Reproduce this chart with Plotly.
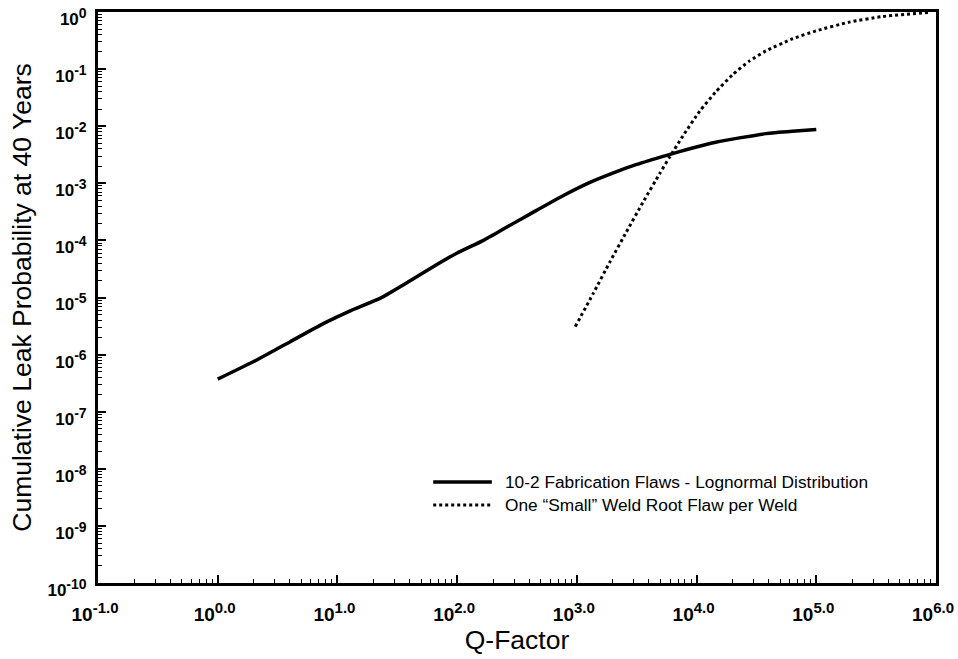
import plotly.graph_objects as go

# Fabrication-flaw curve (10-2 flaws, lognormal distribution)
fab_q = [1.0, 2.14, 4.07, 7.76, 13.2, 22.9, 38.0, 63.1, 100, 166, 269, 437, 794,
         1259, 1995, 3162, 5623, 8913, 14454, 23442, 38019, 63096, 100000]
fab_p = [3.72e-7, 8.13e-7, 1.70e-6, 3.55e-6, 6.03e-6, 9.77e-6, 1.82e-5, 3.47e-5,
         6.03e-5, 1.0e-4, 1.78e-4, 3.16e-4, 6.31e-4, 1.02e-3, 1.51e-3, 2.14e-3,
         3.09e-3, 4.07e-3, 5.25e-3, 6.31e-3, 7.41e-3, 8.13e-3, 8.71e-3]

# Single small weld-root flaw per weld
root_q = [970, 1368, 1884, 2594, 3573, 4920, 5957, 7691, 10593, 14454, 19953,
          27542, 38019, 63096, 100000, 186209, 354813, 870964]
root_p = [3.09e-6, 1.17e-5, 4.17e-5, 1.41e-4, 4.68e-4, 1.48e-3, 2.88e-3, 6.76e-3,
          1.82e-2, 3.98e-2, 7.94e-2, 0.138, 0.209, 0.339, 0.468, 0.661, 0.832, 0.98]

series_names = ["10-2 Fabrication Flaws - Lognormal Distribution",
                "One \u201cSmall\u201d Weld Root Flaw per Weld"]

x_tickvals = [0.1, 1, 10, 100, 1000, 1e4, 1e5, 1e6]
x_exponents = ["-1.0", "0.0", "1.0", "2.0", "3.0", "4.0", "5.0", "6.0"]
y_tickvals = [1e-10, 1e-9, 1e-8, 1e-7, 1e-6, 1e-5, 1e-4, 1e-3, 1e-2, 1e-1, 1]
y_exponents = ["-10", "-9", "-8", "-7", "-6", "-5", "-4", "-3", "-2", "-1", "0"]


def power_label(exp, sup_px):
    return f"10<sup><span style=\"font-size:{sup_px}px\">{exp}</span></sup>"


x_ticktext = [power_label(e, 15) for e in x_exponents]
y_ticktext = [power_label(e, 14) for e in y_exponents]

FONT = "Liberation Sans, Arial, sans-serif"

fig = go.Figure()
fig.add_trace(go.Scatter(x=fab_q, y=fab_p, mode="lines", name=series_names[0],
                         line=dict(color="black", width=3.5, shape="spline", smoothing=0.5)))
fig.add_trace(go.Scatter(x=root_q, y=root_p, mode="lines", name=series_names[1],
                         line=dict(color="black", width=3, dash="dot", shape="spline", smoothing=0.5)))

axis_common = dict(
    type="log", showgrid=False, zeroline=False,
    showline=True, linecolor="black", linewidth=3, mirror=True,
    ticks="inside", ticklen=8, tickwidth=2, tickcolor="black",
    minor=dict(ticks="inside", ticklen=4, tickwidth=1, tickcolor="black", dtick="D1", showgrid=False),
)

fig.update_xaxes(
    **axis_common, range=[-1, 6], tickmode="array",
    tickvals=x_tickvals, ticktext=x_ticktext,
    tickfont=dict(family=FONT, size=19, color="black", weight="bold"),
    ticklabelstandoff=12, ticklabelshift=-3,
    title=dict(text="Q-Factor", font=dict(family=FONT, size=26.5, color="black"), standoff=6),
)
fig.update_yaxes(
    **axis_common, range=[-10, 0], tickmode="array",
    tickvals=y_tickvals, ticktext=y_ticktext,
    tickfont=dict(family=FONT, size=17, color="black", weight="bold"),
    ticklabelstandoff=5, ticklabelshift=7,
    title=dict(text="Cumulative Leak Probability at 40 Years",
               font=dict(family=FONT, size=26.5, color="black"), standoff=9),
)

# Legend drawn as sample strokes plus labels inside the plot area
legend_rows = [(0.177, dict(color="black", width=3.5)),
               (0.1366, dict(color="black", width=3, dash="dot"))]
for (yy, ln), name in zip(legend_rows, series_names):
    fig.add_shape(type="line", xref="paper", yref="paper", x0=0.400, x1=0.470,
                  y0=yy, y1=yy, line=ln)
    fig.add_annotation(xref="paper", yref="paper", x=0.4833, y=yy, text=name,
                       showarrow=False, xanchor="left", yanchor="middle",
                       font=dict(family=FONT, size=17.3, color="black"))

fig.update_layout(
    width=958, height=659,
    margin=dict(l=98, r=22, t=12, b=76, autoexpand=False),
    plot_bgcolor="white", paper_bgcolor="white",
    showlegend=False,
)

fig.write_html("out.html")
